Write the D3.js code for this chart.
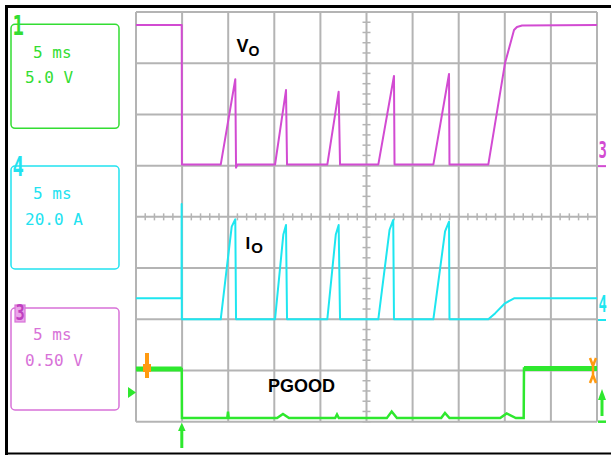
<!DOCTYPE html>
<html><head><meta charset="utf-8">
<script src="https://cdn.jsdelivr.net/npm/d3@7"></script>
<style>body{margin:0;background:#fff}svg{display:block}</style>
</head><body>
<svg id="c" width="612" height="455"></svg>
<script>
// ---- data (time in ms, trigger at 0) ----
const timeDomain = [-5, 45];
const channelLabels = ["1", "4", "3"];
const boxTimebase = ["5 ms", "5 ms", "5 ms"];
const boxScales = ["5.0 V", "20.0 A", "0.50 V"];
const traceNames = ["V", "I", "PGOOD"];

const voTime  = [-5, -0.04, -0.02, 4.19, 5.77, 5.85, 6.0, 10.08, 11.27, 11.38, 15.75, 16.98, 17.13, 21.28, 22.98, 23.04, 27.25, 28.95, 29.0, 33.21, 35.02, 36.0, 36.32, 36.87, 45];
const voValue = [1.373, 1.373, 0.01, 0.01, 0.843, -0.02, 0.01, 0.01, 0.738, 0.01, 0.01, 0.722, 0.01, 0.01, 0.875, 0.01, 0.01, 0.895, 0.01, 0.01, 0.999, 1.324, 1.354, 1.368, 1.373];

const ioTime  = [-5, -0.06, -0.05, -0.03, 4.19, 4.84, 5.38, 5.77, 5.85, 10.08, 10.98, 11.27, 11.38, 15.75, 16.67, 16.98, 17.13, 21.28, 22.5, 22.9, 22.98, 27.25, 28.52, 28.95, 29.0, 33.21, 33.94, 35.02, 36.0, 45];
const ioValue = [8.2, 8.2, 45.0, 0, 0, 19.9, 36.2, 39.05, 0, 0, 33.1, 36.8, 0, 0, 33.1, 36.8, 0, 0, 34.9, 38.8, 0, 0, 34.3, 38.1, 0, 0, 2.3, 6.25, 8.2, 8.2];

const pgTime  = [-5, -0.04, -0.02, 4.9, 4.98, 5.06, 10.3, 10.94, 11.6, 16.6, 16.8, 17.0, 22.2, 22.73, 23.3, 28.1, 28.51, 29.0, 34.5, 35.2, 36.2, 37.05, 37.08, 45];
const pgValue = [5.15, 5.15, 0.35, 0.35, 0.98, 0.35, 0.35, 0.75, 0.35, 0.35, 0.7, 0.35, 0.35, 1.0, 0.35, 0.35, 0.85, 0.35, 0.35, 0.8, 0.35, 0.35, 5.2, 5.2];

// ---- layout ----
const svg = d3.select("#c");
const G = {l:136, r:597, t:12, b:421.7};
const xDiv = d3.scaleLinear().domain([0,10]).range([G.l, G.r]);
const yDiv = d3.scaleLinear().domain([0,8]).range([G.t, G.b]);
const x = d3.scaleLinear().domain(timeDomain).range([G.l, G.r]);
const yVo = d3.scaleLinear().domain([0, 0.5]).range([yDiv(3), yDiv(2)]);
const yIo = d3.scaleLinear().domain([0, 20]).range([yDiv(6), yDiv(5)]);
const yPg = d3.scaleLinear().domain([0, 5]).range([yDiv(8), yDiv(7)]);

const MAG = "#d24bd2", CYAN = "#1ee6f0", GREEN = "#2ee82e", GRID = "#b4b4b4";

// outer frame
svg.append("line").attr("x1",5).attr("x2",611).attr("y1",6.5).attr("y2",6.5).attr("stroke","#000").attr("stroke-width",3);
svg.append("line").attr("x1",6.5).attr("x2",6.5).attr("y1",5).attr("y2",455).attr("stroke","#000").attr("stroke-width",3);
svg.append("line").attr("x1",5).attr("x2",611).attr("y1",453.5).attr("y2",453.5).attr("stroke","#000").attr("stroke-width",2);

// grid
const grid = svg.append("g").attr("stroke", GRID).attr("stroke-width", 2);
grid.selectAll("line.v").data(d3.range(0, 11)).join("line")
  .attr("x1", d=>xDiv(d)).attr("x2", d=>xDiv(d)).attr("y1", G.t).attr("y2", G.b);
grid.selectAll("line.h").data(d3.range(0, 9)).join("line").attr("class","h")
  .attr("y1", d=>yDiv(d)).attr("y2", d=>yDiv(d)).attr("x1", G.l).attr("x2", G.r);
// minor ticks on centre axes
const ticks = svg.append("g").attr("stroke", GRID).attr("stroke-width", 1.5);
ticks.selectAll("line.tv").data(d3.range(0, 40.01, 1)).join("line")
  .attr("x1", xDiv(5)-4).attr("x2", xDiv(5)+4).attr("y1", d=>yDiv(d/5)).attr("y2", d=>yDiv(d/5));
ticks.selectAll("line.th").data(d3.range(0, 50.01, 1)).join("line")
  .attr("y1", yDiv(4)-3.5).attr("y2", yDiv(4)+3.5).attr("x1", d=>xDiv(d/5)).attr("x2", d=>xDiv(d/5));

// traces
const mk = (ts, vs) => ts.map((t,i)=>[t, vs[i]]);
const pgData = mk(pgTime, pgValue), ioData = mk(ioTime, ioValue), voData = mk(voTime, voValue);
const lineOf = ys => d3.line().x(d=>x(d[0])).y(d=>ys(d[1]));
svg.append("path").attr("d", lineOf(yPg)(pgData)).attr("fill","none").attr("stroke",GREEN).attr("stroke-width",2.5);
// noisy high segments drawn thicker
svg.append("path").attr("d", lineOf(yPg)(pgData.filter(d=>d[1]>3 && d[0]<0))).attr("fill","none").attr("stroke",GREEN).attr("stroke-width",5);
svg.append("path").attr("d", lineOf(yPg)(pgData.filter(d=>d[1]>3 && d[0]>30))).attr("fill","none").attr("stroke",GREEN).attr("stroke-width",5);
svg.append("path").attr("d", lineOf(yIo)(ioData)).attr("fill","none").attr("stroke",CYAN).attr("stroke-width",2).attr("stroke-linejoin","round");
svg.append("path").attr("d", lineOf(yVo)(voData)).attr("fill","none").attr("stroke",MAG).attr("stroke-width",2).attr("stroke-linejoin","round");

// trace labels
const lab = svg.append("g").attr("font-family","'Liberation Sans', Arial, sans-serif").attr("font-weight","bold").attr("fill","#000");
const t1 = lab.append("text").attr("x",236.5).attr("y",52);
t1.append("tspan").attr("font-size",18).text(traceNames[0]);
t1.append("tspan").attr("font-size",14).attr("dy",4).text("O");
const t2 = lab.append("text").attr("x",245.5).attr("y",249);
t2.append("tspan").attr("font-size",17).text(traceNames[1]);
t2.append("tspan").attr("font-size",15).attr("dy",4).attr("dx",1).text("O");
lab.append("text").attr("x",268).attr("y",392.3).attr("font-size",18).text(traceNames[2]);

// left info boxes
const boxes = [
  {top:24.3, bot:128.3, col:"#33dd33", lab:channelLabels[0], ly:35, t1y:58, t2y:83},
  {top:166, bot:269, col:"#22e2f0", lab:channelLabels[1], ly:176, t1y:199, t2y:225},
  {top:308, bot:410, col:"#d872d8", lab:channelLabels[2], ly:320, t1y:340, t2y:366}
];
boxes.forEach((b,i)=>{
  svg.append("rect").attr("x",11).attr("y",b.top).attr("width",108).attr("height",b.bot-b.top)
    .attr("rx",4).attr("fill","none").attr("stroke",b.col).attr("stroke-width",1.5);
  if (i===2) {
    svg.append("rect").attr("x",15).attr("y",305).attr("width",10).attr("height",17).attr("fill","#eaa6ea").attr("stroke",b.col).attr("stroke-width",1.2);
  }
  svg.append("text").attr("transform",`translate(${i===2?15.5:12.5},${b.ly}) scale(0.7,1)`)
    .attr("font-family","'DejaVu Sans Mono', monospace").attr("font-size", i===2?22:27).attr("font-weight","bold")
    .attr("fill", i===2 ? "#c040c0" : b.col).text(b.lab);
  svg.append("text").attr("x",33).attr("y",b.t1y).attr("font-family","'DejaVu Sans Mono', monospace")
    .attr("font-size",16).attr("fill",b.col).text(boxTimebase[i]);
  svg.append("text").attr("x",25).attr("y",b.t2y).attr("font-family","'DejaVu Sans Mono', monospace")
    .attr("font-size",16).attr("fill",b.col).text(boxScales[i]);
});

// right-side ground markers
svg.append("text").attr("transform",`translate(598.5,158) scale(0.6,1)`).attr("font-family","'DejaVu Sans Mono', monospace").attr("font-weight","bold").attr("font-size",23).attr("fill",MAG).text("3");
svg.append("line").attr("x1",598).attr("x2",606).attr("y1",yVo(0)+0.5).attr("y2",yVo(0)+0.5).attr("stroke",MAG).attr("stroke-width",2);
svg.append("text").attr("transform",`translate(598.5,312) scale(0.6,1)`).attr("font-family","'DejaVu Sans Mono', monospace").attr("font-weight","bold").attr("font-size",23).attr("fill",CYAN).text("4");
svg.append("line").attr("x1",598).attr("x2",606).attr("y1",yIo(0)+0.7).attr("y2",yIo(0)+0.7).attr("stroke",CYAN).attr("stroke-width",2);
svg.append("line").attr("x1",598).attr("x2",606).attr("y1",yPg(0)).attr("y2",yPg(0)).attr("stroke",GREEN).attr("stroke-width",2.5);
svg.append("line").attr("x1",602).attr("x2",602).attr("y1",416).attr("y2",396).attr("stroke",GREEN).attr("stroke-width",3);
svg.append("path").attr("d","M598,400 L602,389 L606,400 Z").attr("fill",GREEN);

// left trigger level triangle
svg.append("path").attr("d","M128,387 L128,398 L136,392.5 Z").attr("fill",GREEN);
// bottom trigger arrow
svg.append("line").attr("x1",xDiv(1)-0.3).attr("x2",xDiv(1)-0.3).attr("y1",448).attr("y2",428).attr("stroke",GREEN).attr("stroke-width",3);
svg.append("path").attr("d",`M${xDiv(1)-4},431 L${xDiv(1)-0.3},422.5 L${xDiv(1)+3.5},431 Z`).attr("fill",GREEN);

// orange markers
const OR = "#ff9a10";
svg.append("rect").attr("x",145).attr("y",353).attr("width",4).attr("height",25).attr("fill",OR);
svg.append("rect").attr("x",143).attr("y",364).attr("width",8).attr("height",8).attr("fill",OR);
svg.append("path").attr("d","M590,358 L593,366 L596,358 M590,383 L593,375 L596,383 M593,366 L593,375")
  .attr("fill","none").attr("stroke",OR).attr("stroke-width",2.5);
</script>
</body></html>
